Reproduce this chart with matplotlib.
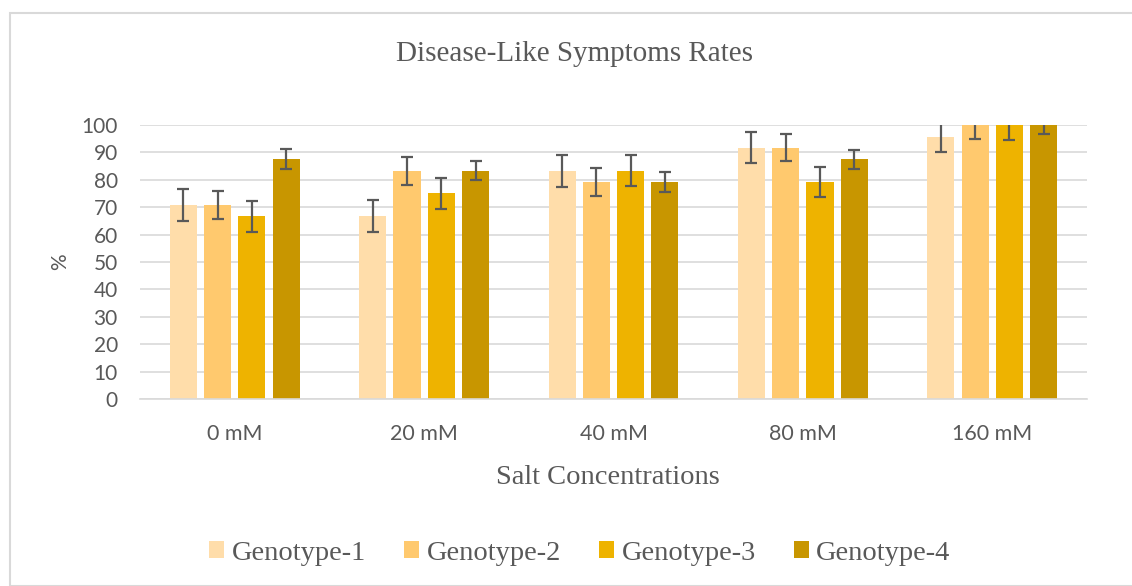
import matplotlib
matplotlib.use("Agg")
import matplotlib.pyplot as plt
import numpy as np
from matplotlib.patches import Rectangle

categories = ["0 mM", "20 mM", "40 mM", "80 mM", "160 mM"]
genotypes = ["Genotype-1", "Genotype-2", "Genotype-3", "Genotype-4"]
g1 = [70.8, 66.7, 83.3, 91.7, 95.8]
g2 = [70.8, 83.3, 79.2, 91.7, 100.0]
g3 = [66.7, 75.0, 83.3, 79.2, 100.0]
g4 = [87.5, 83.3, 79.2, 87.5, 100.0]
e1 = [5.8, 5.8, 5.8, 5.7, 5.5]
e2 = [5.1, 5.1, 5.2, 5.0, 5.1]
e3 = [5.6, 5.5, 5.6, 5.6, 5.5]
e4 = [3.6, 3.5, 3.6, 3.5, 3.4]
colors = ["#FFDDAA", "#FFC96E", "#EEB300", "#C89600"]
yticks = [0, 10, 20, 30, 40, 50, 60, 70, 80, 90, 100]

series = [g1, g2, g3, g4]
errs = [e1, e2, e3, e4]

fig = plt.figure(figsize=(11.32, 5.86), dpi=100)
W, H = 1132, 586
ax = fig.add_axes([140 / W, 1 - 399 / H, (1087 - 140) / W, (399 - 125) / H])

x = np.arange(len(categories))
step = 0.181
bw = 0.143
for i, (vals, err, c) in enumerate(zip(series, errs, colors)):
    pos = x + (i - 1.5) * step
    ax.bar(pos, vals, width=bw, color=c, label=genotypes[i], zorder=2)
    ax.errorbar(pos, vals, yerr=err, fmt="none", ecolor="#595959",
                elinewidth=1.6, capsize=4.3, capthick=1.6, zorder=3)

ax.set_ylim(0, 100)
ax.set_xlim(-0.5, len(categories) - 0.5)
ax.set_yticks(yticks)
ax.set_yticklabels([str(t) for t in yticks], fontsize=15, color="#595959",
                   family="Lato")
ax.set_xticks(x)
ax.set_xticklabels(categories, fontsize=15.5, color="#595959", family="Lato")
ax.tick_params(axis="both", length=0)
ax.tick_params(axis="y", pad=16)
ax.tick_params(axis="x", pad=18)
ax.grid(axis="y", color="#D9D9D9", linewidth=1.2, zorder=0)
ax.set_axisbelow(True)
for s in ["top", "right", "left"]:
    ax.spines[s].set_visible(False)
ax.spines["bottom"].set_color("#D9D9D9")
ax.spines["bottom"].set_linewidth(1.2)

fig.text(575 / W, 1 - 54 / H, "Disease-Like Symptoms Rates", ha="center",
         va="center", fontsize=21, color="#595959", family="Liberation Serif")
fig.text(608 / W, 1 - 477 / H, "Salt Concentrations", ha="center", va="center",
         fontsize=20.5, color="#595959", family="Liberation Serif")
fig.text(60 / W, 1 - 262 / H, "%", ha="center", va="center", rotation=90,
         fontsize=15, color="#595959", family="Lato")

handles, labels = ax.get_legend_handles_labels()
leg = fig.legend(handles, labels, loc="center", bbox_to_anchor=(580 / W, 1 - 553 / H),
                 ncol=4, frameon=False, prop={"family": "Liberation Serif", "size": 20.5},
                 handlelength=0.53, handleheight=0.53, handletextpad=0.25,
                 columnspacing=1.35, labelcolor="#595959")

fig.add_artist(Rectangle((10 / W, 0), 1 - 10 / W + 0.01, 1 - 13 / H,
                         transform=fig.transFigure, fill=False,
                         edgecolor="#D9D9D9", linewidth=1.5))

fig.savefig("out.png", dpi=100, facecolor="white")
